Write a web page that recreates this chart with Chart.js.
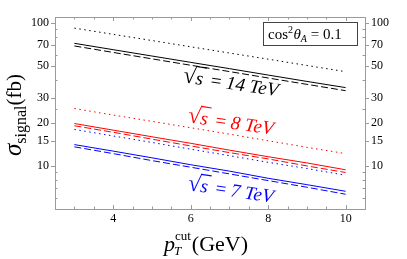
<!DOCTYPE html>
<html>
<head>
<meta charset="utf-8">
<script src="https://cdn.jsdelivr.net/npm/chart.js@4"></script>
<style>
  html, body { margin: 0; padding: 0; background: #fff; }
  #wrap { width: 407px; height: 259px; }
</style>
</head>
<body>
<div id="wrap"><canvas id="myChart" width="407" height="259"></canvas></div>
<script>
// pT cut values (GeV)
var ptCut = [3, 4, 5, 6, 7, 8, 9, 10];

// sqrt(s) = 14 TeV
var s14Solid  = [72, 65, 58.7, 53, 47.9, 43.2, 39, 35.3];
var s14Dashed = [69, 62.2, 56.1, 50.6, 45.7, 41.2, 37.2, 33.6];
var s14Dotted = [92, 83.2, 75.3, 68.1, 61.6, 55.8, 50.4, 45.6];
// sqrt(s) = 8 TeV
var s8Solid  = [19.8, 17.8, 16.0, 14.4, 12.9, 11.6, 10.5, 9.4];
var s8Dashed = [19.1, 17.2, 15.4, 13.8, 12.4, 11.2, 10.0, 9.0];
var s8Dotted = [25.2, 22.7, 20.5, 18.5, 16.7, 15.0, 13.5, 12.2];
// sqrt(s) = 7 TeV
var s7Solid  = [14.1, 12.7, 11.4, 10.2, 9.2, 8.2, 7.4, 6.65];
var s7Dashed = [13.6, 12.2, 10.9, 9.8, 8.8, 7.9, 7.1, 6.34];
var s7Dotted = [18.0, 16.2, 14.6, 13.1, 11.8, 10.6, 9.6, 8.6];

var yMajor = [10, 15, 20, 30, 50, 70, 100];
var yMinor = [6, 7, 8, 9, 25, 40, 60, 80, 90];
var xMajor = [4, 6, 8, 10];

var serif = "'Liberation Serif', 'DejaVu Serif', serif";
var frameColor = "#9a9a9a";
var dashPattern = [7, 3];
var dotPattern = [1.5, 3.5];

function pts(ys) {
  return ptCut.map(function (x, i) { return { x: x, y: ys[i] }; });
}
function ds(ys, color, dash) {
  return { data: pts(ys), borderColor: color, borderWidth: 1, borderDash: dash,
           pointRadius: 0, fill: false, tension: 0 };
}

function xTickList() {
  var t = [];
  for (var v = 2.5; v <= 10.5001; v += 0.5) t.push({ value: v });
  return t;
}
function yTickList() {
  return yMajor.concat(yMinor).sort(function (a, b) { return a - b; })
    .map(function (v) { return { value: v }; });
}

// tick marks + texts
var decor = {
  id: "decor",
  afterDraw: function (chart) {
    var c = chart.ctx, a = chart.chartArea;
    var xs = chart.scales.x, ys = chart.scales.y;
    c.save();
    c.strokeStyle = frameColor;
    c.lineWidth = 1;
    c.beginPath();
    xTickList().forEach(function (t) {
      var px = Math.round(xs.getPixelForValue(t.value)) + 0.5;
      var len = xMajor.indexOf(t.value) >= 0 ? 4 : 2.5;
      c.moveTo(px, a.bottom); c.lineTo(px, a.bottom - len);
      c.moveTo(px, a.top); c.lineTo(px, a.top + len);
    });
    yTickList().forEach(function (t) {
      var py = Math.round(ys.getPixelForValue(t.value)) + 0.5;
      if (yMajor.indexOf(t.value) >= 0) {
        c.moveTo(a.left - 4, py); c.lineTo(a.left, py);
        c.moveTo(a.right, py); c.lineTo(a.right + 4, py);
      } else {
        c.moveTo(a.left, py); c.lineTo(a.left + 2.5, py);
        c.moveTo(a.right, py); c.lineTo(a.right - 2.5, py);
      }
    });
    c.stroke();

    // sqrt(s) labels
    function rootLabel(txt, xv, yv, color) {
      var px = xs.getPixelForValue(xv), py = ys.getPixelForValue(yv);
      c.save();
      c.translate(px, py);
      c.rotate(8.5 * Math.PI / 180);
      c.fillStyle = color; c.strokeStyle = color;
      c.textBaseline = "alphabetic";
      var fRoot = "23px " + serif, fIt = "italic 19px " + serif, fUp = "19px " + serif;
      var parts = [["√", fRoot], ["s", fIt], [" = ", fUp], [txt, fIt]];
      var w = 0;
      parts.forEach(function (p) { c.font = p[1]; w += c.measureText(p[0]).width; });
      var x = -w / 2;
      parts.forEach(function (p, i) {
        c.font = p[1];
        c.fillText(p[0], x, 6);
        var pw = c.measureText(p[0]).width;
        if (i === 1) {
          c.lineWidth = 1.2;
          c.beginPath(); c.moveTo(x - 1, -11.5); c.lineTo(x + pw + 2, -11.5); c.stroke();
        }
        x += pw + (i === 1 ? 3 : 0);
      });
      c.restore();
    }
    rootLabel("14 TeV", 7.0, 38, "#000");
    rootLabel("8 TeV", 7.0, 20.2, "#ff0000");
    rootLabel("7 TeV", 7.0, 6.77, "#0000ff");

    // cos^2 box
    c.fillStyle = "#fff";
    c.strokeStyle = "#444";
    c.lineWidth = 1;
    c.fillRect(263.5, 22.5, 94, 23);
    c.strokeRect(263.5, 22.5, 94, 23);
    c.fillStyle = "#000";
    var bx = 268, by = 39;
    c.font = "15px " + serif; c.fillText("cos", bx, by); bx += c.measureText("cos").width;
    c.font = "10px " + serif; c.fillText("2", bx, by - 6); bx += c.measureText("2").width + 0.5;
    c.font = "italic 15px " + serif; c.fillText("θ", bx, by); bx += c.measureText("θ").width;
    c.font = "italic 10px " + serif; c.fillText("A", bx, by + 3); bx += c.measureText("A").width;
    c.font = "15px " + serif; c.fillText(" = 0.1", bx, by);

    // x title
    c.font = "italic 22px " + serif; var wp = c.measureText("p").width;
    c.font = "13px " + serif; var wc = c.measureText("cut").width;
    c.font = "22px " + serif; var wg = c.measureText("(GeV)").width;
    var total = wp + wc + 1 + wg;
    var tx = 206 - total / 2, ty = 251;
    c.font = "italic 22px " + serif; c.fillText("p", tx, ty);
    c.font = "italic 13px " + serif; c.fillText("T", tx + wp - 1, ty + 4);
    c.font = "13px " + serif; c.fillText("cut", tx + wp, ty - 11);
    c.font = "22px " + serif; c.fillText("(GeV)", tx + wp + wc + 1, ty);

    // y title
    c.save();
    c.translate(21, 115);
    c.rotate(-Math.PI / 2);
    c.font = "italic 25px " + serif; var ws = c.measureText("σ").width;
    c.font = "16px " + serif; var wsig = c.measureText("signal").width;
    c.font = "21px " + serif; var wfb = c.measureText("(fb)").width;
    var yx = -(ws + wsig + wfb) / 2;
    c.font = "italic 25px " + serif; c.fillText("σ", yx, 0);
    c.font = "16px " + serif; c.fillText("signal", yx + ws, 5);
    c.font = "21px " + serif; c.fillText("(fb)", yx + ws + wsig, 0);
    c.restore();

    c.restore();
  }
};

var tickFont = { family: serif, size: 12 };

var config = {
  type: "line",
  data: {
    datasets: [
      ds(s14Dotted, "#000", dotPattern),
      ds(s14Solid, "#000", []),
      ds(s14Dashed, "#000", dashPattern),
      ds(s8Dotted, "#ff0000", dotPattern),
      ds(s8Solid, "#ff0000", []),
      ds(s8Dashed, "#ff0000", dashPattern),
      ds(s7Dotted, "#0000ff", dotPattern),
      ds(s7Solid, "#0000ff", []),
      ds(s7Dashed, "#0000ff", dashPattern)
    ]
  },
  options: {
    responsive: false,
    animation: false,
    layout: { padding: 0 },
    plugins: { legend: { display: false }, tooltip: { enabled: false } },
    scales: {
      x: {
        type: "linear", position: "bottom", min: 2.5, max: 10.5,
        afterFit: function (s) { s.height = 50; },
        afterBuildTicks: function (s) { s.ticks = xMajor.map(function (v) { return { value: v }; }); },
        grid: { display: false, drawTicks: false },
        border: { display: true, color: frameColor },
        ticks: { font: tickFont, color: "#000", padding: 3, maxRotation: 0 }
      },
      xTop: {
        type: "linear", position: "top", min: 2.5, max: 10.5,
        afterFit: function (s) { s.height = 17; },
        grid: { display: false, drawTicks: false },
        border: { display: true, color: frameColor },
        ticks: { display: false }
      },
      y: {
        type: "logarithmic", position: "left", min: 5, max: 110,
        afterFit: function (s) { s.width = 55; },
        afterBuildTicks: function (s) { s.ticks = yMajor.map(function (v) { return { value: v }; }); },
        grid: { display: false, drawTicks: false },
        border: { display: true, color: frameColor },
        ticks: { font: tickFont, color: "#000", padding: 6,
                 callback: function (v) { return String(v); } }
      },
      yRight: {
        type: "logarithmic", position: "right", min: 5, max: 110,
        afterFit: function (s) { s.width = 42; },
        afterBuildTicks: function (s) { s.ticks = yMajor.map(function (v) { return { value: v }; }); },
        grid: { display: false, drawTicks: false },
        border: { display: true, color: frameColor },
        ticks: { font: tickFont, color: "#000", padding: 6,
                 callback: function (v) { return String(v); } }
      }
    }
  },
  plugins: [decor]
};

var context = document.getElementById("myChart");
var myChart = new Chart(context, config);
</script>
</body>
</html>
